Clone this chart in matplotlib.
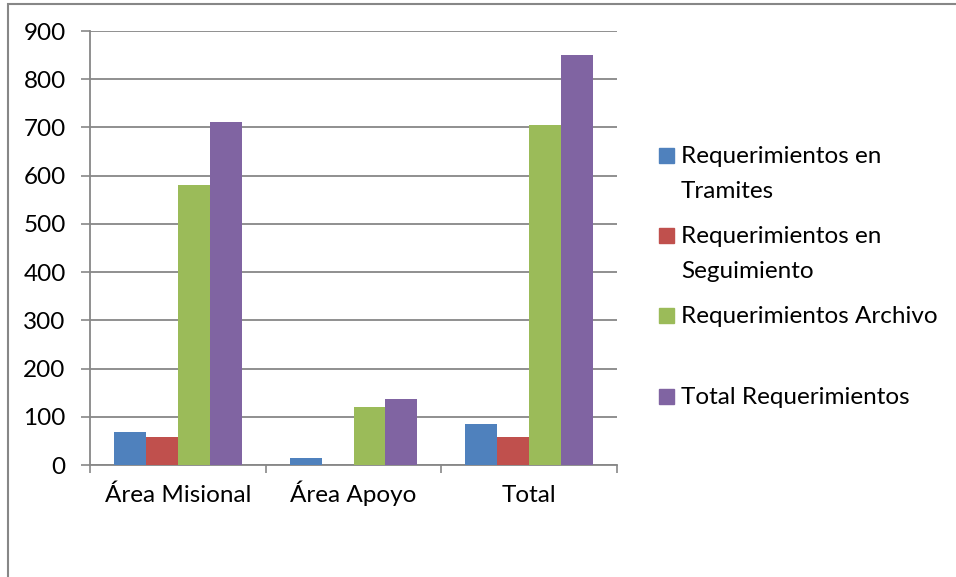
import matplotlib.pyplot as plt
import numpy as np
from matplotlib.patches import Rectangle

plt.rcParams["font.family"] = ["Lato", "DejaVu Sans"]

categorias = ["Área Misional", "Área Apoyo", "Total"]
series = [
    "Requerimientos en\nTramites",
    "Requerimientos en\nSeguimiento",
    "Requerimientos Archivo",
    "Total Requerimientos",
]
tramites = [69, 14, 85]
seguimiento = [58, 0, 58]
archivo = [581, 121, 705]
total_req = [712, 137, 851]
colores = ["#4f81bd", "#c0504d", "#9bbb59", "#8064a2"]
ticks_y = [0, 100, 200, 300, 400, 500, 600, 700, 800, 900]

W, H = 956, 577
fs = 17.5
fig = plt.figure(figsize=(W / 100, H / 100), dpi=100)
ax = fig.add_axes([90 / W, 1 - 465 / H, (617 - 90) / W, (465 - 31) / H])

gris = "#878787"
x = np.arange(len(categorias))
ancho = 0.182
valores = [tramites, seguimiento, archivo, total_req]
for i, (vals, color) in enumerate(zip(valores, colores)):
    ax.bar(x + (i - 1.5) * ancho, vals, width=ancho, color=color, zorder=3)

ax.set_xlim(-0.5, len(categorias) - 0.5)
ax.set_ylim(0, 900)
ax.set_yticks(ticks_y)
ax.set_xticks(np.arange(len(categorias) + 1) - 0.5)
ax.set_xticklabels([])
ax.set_xticks(x, minor=True)
ax.set_xticklabels(categorias, minor=True, va="baseline")
ax.tick_params(axis="x", which="minor", length=0, pad=27, labelsize=fs)
ax.tick_params(axis="x", which="major", length=6, color=gris, width=1.2)
ax.tick_params(axis="y", length=6.5, color=gris, width=1.2, pad=11, labelsize=fs)
ax.yaxis.grid(True, color=gris, linewidth=1.3, zorder=0)
for lado in ["top", "right"]:
    ax.spines[lado].set_visible(False)
for lado in ["left", "bottom"]:
    ax.spines[lado].set_color(gris)
    ax.spines[lado].set_linewidth(1.3)

# leyenda a la derecha, una entrada por serie
base_entradas = [163, 243, 323, 404]
for nombre, color, yb in zip(series, colores, base_entradas):
    fig.patches.append(Rectangle((659 / W, 1 - yb / H), 15 / W, 15 / H,
                                 color=color, transform=fig.transFigure))
    lineas = nombre.split("\n")
    for k, linea in enumerate(lineas):
        fig.text(681 / W, 1 - (yb + 35 * k) / H, linea, fontsize=fs,
                 va="baseline", ha="left")

# marco exterior del gráfico
fig.patches.append(Rectangle((8 / W, -0.1), 1.2, 1 - 4 / H + 0.1, fill=False,
                             edgecolor=gris, linewidth=1.5,
                             transform=fig.transFigure))

fig.savefig("out.png", dpi=100)
